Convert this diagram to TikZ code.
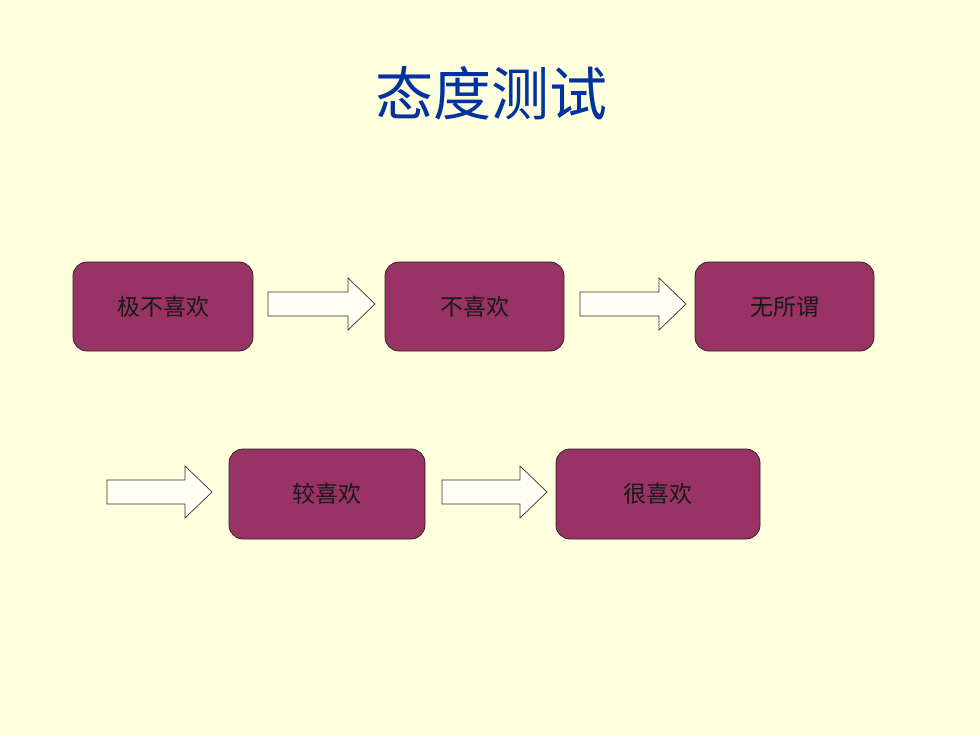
\documentclass[tikz,border=0pt]{standalone}
\usepackage{fontspec}
\newfontfamily\cjk{Noto Sans CJK SC}
\definecolor{bg}{HTML}{FFFFDD}
\definecolor{boxfill}{HTML}{993366}
\definecolor{titleblue}{HTML}{0033A0}
\definecolor{arrowfill}{HTML}{FFFFF4}
\begin{document}
\begin{tikzpicture}[x=1pt,y=-1pt,
  stepbox/.style={draw=black!85, line width=0.8pt, fill=boxfill, rounded corners=14pt, inner sep=0pt, font=\cjk\fontsize{23}{23}\selectfont, text=black!90},
  blockarrow/.style={draw=black!80, line width=0.7pt, fill=arrowfill, line join=miter}]
\fill[bg] (0,0) rectangle (980,735);
\useasboundingbox (0,0) rectangle (980,735);
\node[text=titleblue, font=\cjk\fontsize{58}{58}\selectfont] (title) at (491,93) {态度测试};
% top row
\node[stepbox, minimum width=180pt, minimum height=89pt] (b1) at (163,306.5) {极不喜欢};
\node[stepbox, minimum width=179pt, minimum height=89pt] (b2) at (474.5,306.5) {不喜欢};
\node[stepbox, minimum width=179pt, minimum height=89pt] (b3) at (784.5,306.5) {无所谓};
% bottom row
\node[stepbox, minimum width=196pt, minimum height=90pt] (b4) at (327,494) {较喜欢};
\node[stepbox, minimum width=204pt, minimum height=90pt] (b5) at (658,494) {很喜欢};
% block arrows
\newcommand{\blockarr}[4]{% x0, xbase, xtip, ycenter
  \draw[blockarrow] (#1,#4-12) -- (#2,#4-12) -- (#2,#4-26) -- (#3,#4) -- (#2,#4+26) -- (#2,#4+12) -- (#1,#4+12) -- cycle;}
\blockarr{268}{348}{375}{304}
\blockarr{580}{659}{686}{304}
\blockarr{107}{185}{212}{492}
\blockarr{442}{520}{547}{492}
\end{tikzpicture}
\end{document}
